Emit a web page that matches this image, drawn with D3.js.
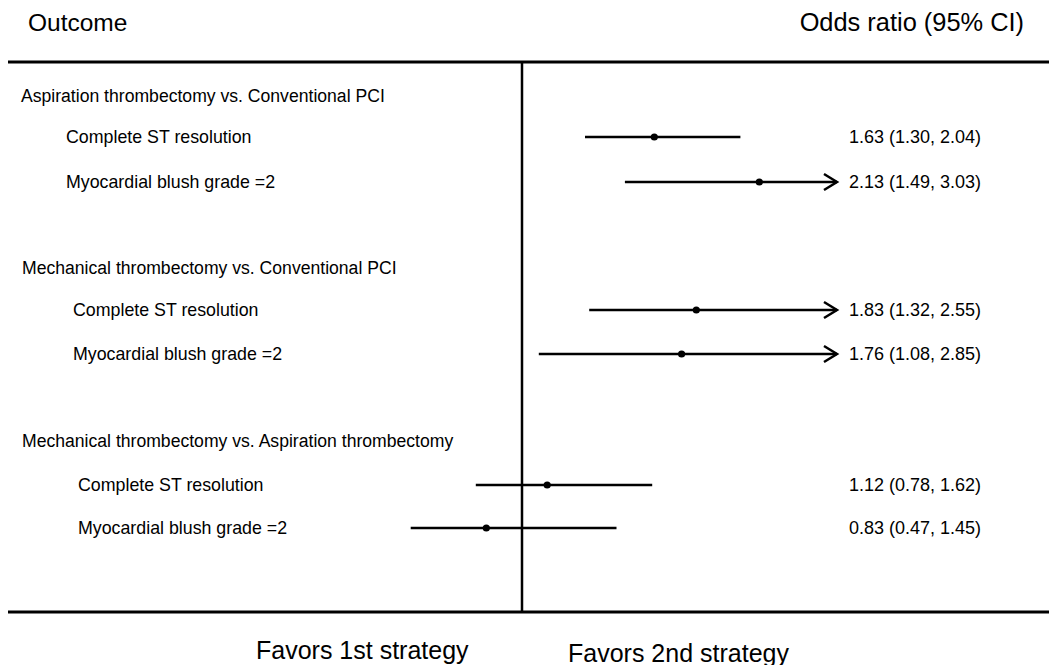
<!DOCTYPE html>
<html>
<head>
<meta charset="utf-8">
<script src="https://cdn.jsdelivr.net/npm/d3@7"></script>
<style>
  html, body { margin: 0; padding: 0; background: #fff; }
  svg { display: block; }
  text { font-family: Arial, "Liberation Sans", sans-serif; fill: #000; }
</style>
</head>
<body>
<svg id="chart" width="1049" height="665"></svg>
<script>
// Comparisons and outcomes
const groups = [
  "Aspiration thrombectomy vs. Conventional PCI",
  "Mechanical thrombectomy vs. Conventional PCI",
  "Mechanical thrombectomy vs. Aspiration thrombectomy"
];
const outcomes = ["Complete ST resolution", "Myocardial blush grade =2"];

// Odds ratios with 95% CI, two outcomes per comparison
const orValues = [1.63, 2.13, 1.83, 1.76, 1.12, 0.83];
const ciLower  = [1.30, 1.49, 1.32, 1.08, 0.78, 0.47];
const ciUpper  = [2.04, 3.03, 2.55, 2.85, 1.62, 1.45];
const orLabels = [
  "1.63 (1.30, 2.04)", "2.13 (1.49, 3.03)",
  "1.83 (1.32, 2.55)", "1.76 (1.08, 2.85)",
  "1.12 (0.78, 1.62)", "0.83 (0.47, 1.45)"
];

const svg = d3.select("#chart");

// Horizontal odds-ratio scale; intervals beyond the upper limit end in an arrow
const x = d3.scaleLinear().domain([0.4, 2.5]).range([396, 837]);
const xMax = x.domain()[1];

// Vertical layout
const groupY = [96, 268, 441];
const rowY = [137, 182, 310, 354, 485, 528];
const rowIndent = [66, 73, 78];
const groupIndent = [21, 22, 22];

const ruleTop = 62, ruleBottom = 612;

// Header
svg.append("text").attr("x", 28).attr("y", 31)
  .style("font-size", "24.5px").text("Outcome");
svg.append("text").attr("x", 1024).attr("y", 31).attr("text-anchor", "end")
  .style("font-size", "25.4px").text("Odds ratio (95% CI)");

// Rules
svg.append("line").attr("x1", 8).attr("x2", 1049).attr("y1", ruleTop).attr("y2", ruleTop)
  .attr("stroke", "#000").attr("stroke-width", 3);
svg.append("line").attr("x1", 8).attr("x2", 1049).attr("y1", ruleBottom).attr("y2", ruleBottom)
  .attr("stroke", "#000").attr("stroke-width", 3);

// Line of no effect
svg.append("line").attr("x1", x(1)).attr("x2", x(1)).attr("y1", ruleTop).attr("y2", ruleBottom)
  .attr("stroke", "#000").attr("stroke-width", 2.5);

// Group headings
svg.selectAll("text.group").data(groups).join("text")
  .attr("class", "group")
  .attr("x", (d, i) => groupIndent[i])
  .attr("y", (d, i) => groupY[i] + 6)
  .style("font-size", "17.6px")
  .text(d => d);

// Rows
const rows = orValues.map((v, i) => ({
  group: Math.floor(i / 2),
  label: outcomes[i % 2],
  or: v, lo: ciLower[i], hi: ciUpper[i],
  text: orLabels[i], y: rowY[i]
}));

svg.selectAll("text.row").data(rows).join("text")
  .attr("class", "row")
  .attr("x", d => rowIndent[d.group])
  .attr("y", d => d.y + 6)
  .style("font-size", "17.8px")
  .text(d => d.label);

// Confidence intervals
svg.selectAll("line.ci").data(rows).join("line")
  .attr("class", "ci")
  .attr("x1", d => x(d.lo))
  .attr("x2", d => x(Math.min(d.hi, xMax)))
  .attr("y1", d => d.y).attr("y2", d => d.y)
  .attr("stroke", "#000").attr("stroke-width", 2.5);

// Arrowheads for truncated intervals
svg.selectAll("path.arrow").data(rows.filter(d => d.hi > xMax)).join("path")
  .attr("class", "arrow")
  .attr("d", d => {
    const tx = x(xMax);
    return `M${tx - 13},${d.y - 8} L${tx},${d.y} L${tx - 13},${d.y + 8}`;
  })
  .attr("fill", "none").attr("stroke", "#000").attr("stroke-width", 2.5);

// Point estimates
svg.selectAll("circle.pt").data(rows).join("circle")
  .attr("class", "pt")
  .attr("cx", d => x(d.or)).attr("cy", d => d.y).attr("r", 3.6)
  .attr("fill", "#000");

// Estimates text
svg.selectAll("text.val").data(rows).join("text")
  .attr("class", "val")
  .attr("x", 849)
  .attr("y", d => d.y + 6)
  .style("font-size", "18px")
  .text(d => d.text);

// Footer
svg.append("text").attr("x", 256).attr("y", 659)
  .style("font-size", "25px").text("Favors 1st strategy");
svg.append("text").attr("x", 568).attr("y", 662)
  .style("font-size", "25px").text("Favors 2nd strategy");
</script>
</body>
</html>
